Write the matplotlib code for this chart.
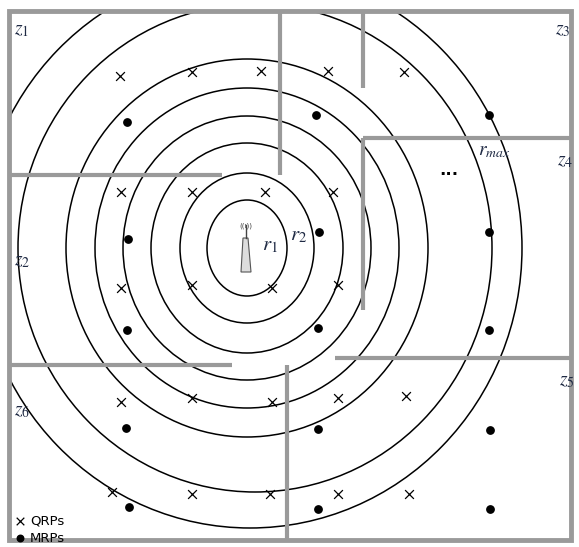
import matplotlib
matplotlib.use("Agg")
import matplotlib.pyplot as plt
from matplotlib.patches import Ellipse, Rectangle, Polygon
plt.rcParams['mathtext.fontset'] = 'stix'

# data (image pixel coordinates)
qrp_x = [120,192,261,328,404, 121,192,265,333, 121,192,272,338, 121,192,272,338,406, 112,192,270,338,409]
qrp_y = [76,72,71,71,72, 192,192,192,192, 288,285,288,285, 402,398,402,398,396, 492,494,494,494,494]
mrp_x = [127,316,489, 128,319,489, 127,318,489, 126,318,490, 129,318,490]
mrp_y = [122,115,115, 239,232,232, 330,328,330, 428,429,430, 507,509,509]
ring_cx = [247,247,247,247,247,247,255,250]
ring_rx = [40,67,96,124,152,181,237,272]
ring_ry = [48,75,105,132,160,189,244,280]
walls = [((280,10),(280,175)), ((363,10),(363,88)), ((10,175),(222,175)),
         ((363,138),(572,138)), ((363,138),(363,310)), ((335,358),(572,358)),
         ((10,365),(232,365)), ((287,365),(287,541))]
zones = [("1",14,30),("3",555,30),("4",557,160),("2",14,260),("5",559,380),("6",14,410)]

W, H = 579, 547
fig = plt.figure(figsize=(W/100, H/100), dpi=100)
ax = fig.add_axes([0,0,1,1])
ax.set_xlim(0, W); ax.set_ylim(H, 0); ax.axis("off")

for cx, rx, ry in zip(ring_cx, ring_rx, ring_ry):
    e = Ellipse((cx, 248), 2*rx, 2*ry, fill=False, ec="black", lw=1.1)
    ax.add_patch(e)
    e.set_clip_path(Rectangle((9,11),562,529, transform=ax.transData))

gray = "#9a9a9a"
for (a, b) in walls:
    ax.plot([a[0], b[0]], [a[1], b[1]], color=gray, lw=3, solid_capstyle="butt")
ax.add_patch(Rectangle((9,11),562,529, fill=False, ec=gray, lw=3.5))

ax.scatter(qrp_x, qrp_y, marker="x", s=40, c="black", lw=0.9)
ax.scatter(mrp_x, mrp_y, marker="o", s=28, c="black")

# antenna
ax.add_patch(Polygon([(241,272),(243,238),(248,238),(251,272)], closed=True, fc="#dddddd", ec="#555555", lw=0.8))
ax.plot([245.5,245.5],[225,238], color="#444444", lw=1)
ax.text(245.5, 226, "((ı))", fontsize=5, ha="center", va="center", color="#444444")

tc = "#1f2a44"
for n, x, y in zones:
    ax.text(x, y, f"$z_{n}$", fontsize=14, color=tc, ha="left", va="center")
ax.text(262, 245, "$r_1$", fontsize=15, color=tc, ha="left", va="center")
ax.text(290, 235, "$r_2$", fontsize=15, color=tc, ha="left", va="center")
ax.text(478, 150, "$r_{max}$", fontsize=14, color=tc, ha="left", va="center")
ax.text(449, 170, "...", fontsize=12, color="black", ha="center", va="center", fontweight="bold")

ax.scatter([20],[521], marker="x", s=30, c="black", lw=0.9)
ax.scatter([20],[538], marker="o", s=22, c="black")
ax.text(30, 521, "QRPs", fontsize=9.5, va="center")
ax.text(30, 538, "MRPs", fontsize=9.5, va="center")

fig.savefig("out.png", dpi=100, facecolor="white")
